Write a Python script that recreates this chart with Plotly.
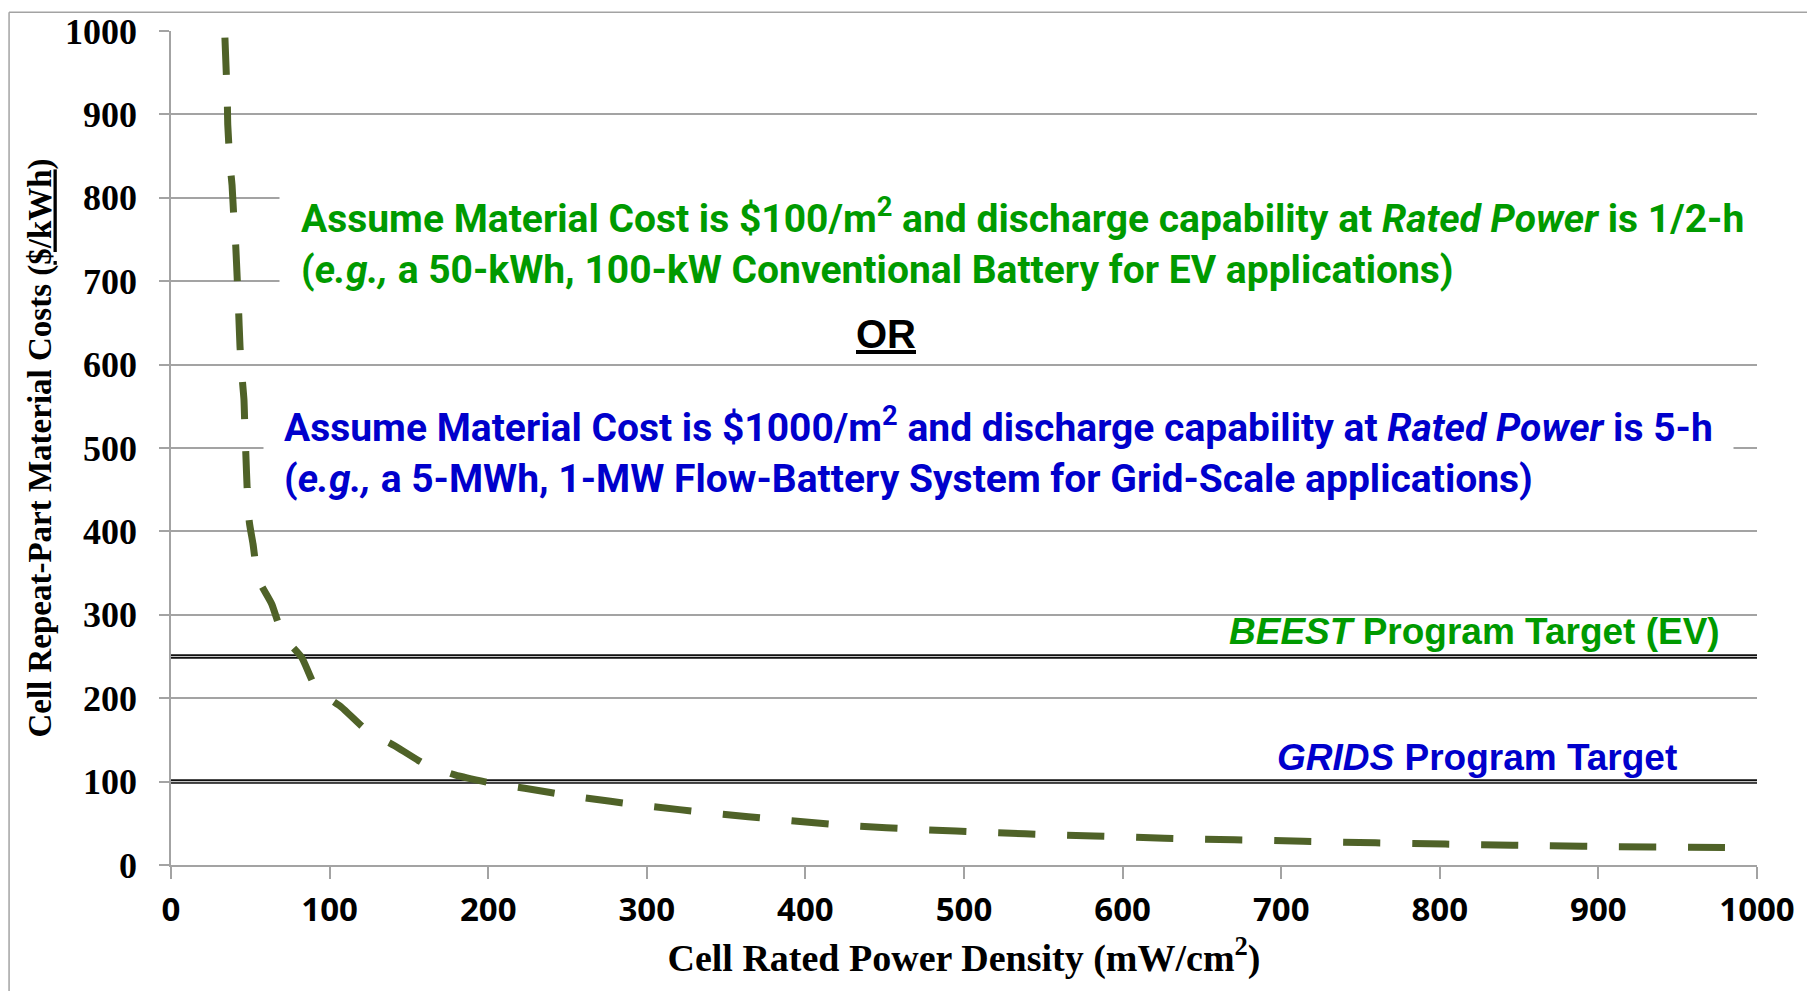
import plotly.graph_objects as go

# ---- data ----
power = [34, 35.5, 35.8, 37.2, 38.5, 39.7, 40.8, 41.8, 42.5, 43.5, 44.5, 46, 46.5, 47.3,
         48, 49.4, 51.7, 55, 63.5, 70.6, 82.4, 91.8, 107.6, 123, 141, 160, 179, 200,
         223, 255, 299, 342, 386, 429, 473, 517, 560, 604, 649, 692, 736, 783, 824,
         868, 912, 956, 1000]
cost = [992, 916, 887, 841, 815, 773, 743, 701, 671, 622, 592, 558, 528, 487,
        452, 411, 385, 343, 313, 275, 249, 211, 189, 162, 143, 121, 108, 99,
        92, 82, 71, 62, 54, 47, 42.5, 39, 36, 33.5, 31, 29.5, 27.5, 25.8, 24.4,
        23.2, 22, 21.4, 20.6]

target_names = ["BEEST", "GRIDS"]
target_values = [250, 100]
target_labels = ["<i>BEEST</i> Program Target (EV)", "<i>GRIDS</i> Program Target"]

x_ticks = [0, 100, 200, 300, 400, 500, 600, 700, 800, 900, 1000]
y_ticks = [0, 100, 200, 300, 400, 500, 600, 700, 800, 900, 1000]

x_title = "Cell Rated Power Density (mW/cm<sup>2</sup>)"
y_title = "Cell Repeat-Part Material Costs (<u>$/kWh</u>)"

green_text = ("<b>Assume Material Cost is $100/m<sup>2</sup> and discharge capability at "
              "<i>Rated Power</i> is 1/2-h<br>(<i>e.g.,</i> a 50-kWh, 100-kW Conventional "
              "Battery for EV applications)</b>")
blue_text = ("<b>Assume Material Cost is $1000/m<sup>2</sup> and discharge capability at "
             "<i>Rated Power</i> is 5-h<br>(<i>e.g.,</i> a 5-MWh, 1-MW Flow-Battery System "
             "for Grid-Scale applications)</b>")

GREEN = "#009A00"
BLUE = "#0000CC"
GRID = "#a3a3a3"
SANS = "Roboto, sans-serif"

fig = go.Figure()

for v in target_values:
    fig.add_trace(go.Scatter(x=[0, 1000], y=[v, v], mode="lines",
                             line=dict(color="#111111", width=4.5),
                             hoverinfo="skip", showlegend=False))
    fig.add_trace(go.Scatter(x=[0, 1000], y=[v, v], mode="lines",
                             line=dict(color="#c4c4c4", width=1.2),
                             hoverinfo="skip", showlegend=False))

fig.add_trace(go.Scatter(x=power, y=cost, mode="lines",
                         line=dict(color="#4F6228", width=7, dash="37px,32px",
                                   shape="spline", smoothing=0.5),
                         showlegend=False))

fig.update_layout(
    width=1807, height=991,
    margin=dict(l=171, r=50, t=25, b=126),
    plot_bgcolor="white", paper_bgcolor="white",
    showlegend=False,
)

fig.update_xaxes(
    range=[0, 1000], tickvals=x_ticks, showgrid=False, zeroline=False,
    showline=True, linecolor=GRID, linewidth=1.5,
    ticks="outside", ticklen=12, tickcolor=GRID, tickwidth=1.5,
    tickfont=dict(family="Open Sans", size=33, color="black", weight="bold"),
    ticklabelstandoff=3, ticklabeloverflow="allow",
    title=dict(text=x_title, standoff=12,
               font=dict(family="Liberation Serif", size=38, color="black", weight="bold")),
)
fig.update_yaxes(
    range=[0, 1000], tickvals=y_ticks, showgrid=True, gridcolor=GRID, gridwidth=1.5,
    zeroline=False, showline=True, linecolor=GRID, linewidth=1.5,
    ticks="outside", ticklen=10, tickcolor=GRID, tickwidth=1.5,
    tickfont=dict(family="Liberation Serif", size=36, color="black", weight="bold"),
    ticklabelstandoff=15, ticklabeloverflow="allow",
    title=dict(text=y_title, standoff=3,
               font=dict(family="Liberation Serif", size=33, color="black", weight="bold")),
)

# chart-area border (left and top)
fig.add_shape(type="line", xref="paper", yref="paper", x0=-0.1021, x1=-0.1021,
              y0=-0.2, y1=1.0226, line=dict(color=GRID, width=1.5))
fig.add_shape(type="line", xref="paper", yref="paper", x0=-0.1021, x1=1.1,
              y0=1.0226, y1=1.0226, line=dict(color=GRID, width=1.5))

# text boxes
fig.add_annotation(x=68, y=747, xref="x", yref="y", text=green_text, showarrow=False,
                   xanchor="left", yanchor="middle", align="left", bgcolor="white",
                   borderpad=21, font=dict(family=SANS, size=39, color=GREEN))
fig.add_annotation(x=58, y=496.5, xref="x", yref="y", text=blue_text, showarrow=False,
                   xanchor="left", yanchor="middle", align="left", bgcolor="white",
                   borderpad=20, font=dict(family=SANS, size=39, color=BLUE))
fig.add_annotation(x=451, y=637, xref="x", yref="y", text="<b><u>OR</u></b>",
                   showarrow=False, font=dict(family="Liberation Sans", size=40, color="black"))

fig.add_annotation(x=822, y=280, xref="x", yref="y", text="<b>" + target_labels[0] + "</b>",
                   showarrow=False, font=dict(family="Liberation Sans", size=37, color=GREEN))
fig.add_annotation(x=823.5, y=128.6, xref="x", yref="y", text="<b>" + target_labels[1] + "</b>",
                   showarrow=False, font=dict(family="Liberation Sans", size=37, color=BLUE))

# remove the browser's default 8px body margin so the figure fills the window exactly
fig.write_html("out.html", config={"displayModeBar": False},
               post_script="document.body.style.margin='0px';")
